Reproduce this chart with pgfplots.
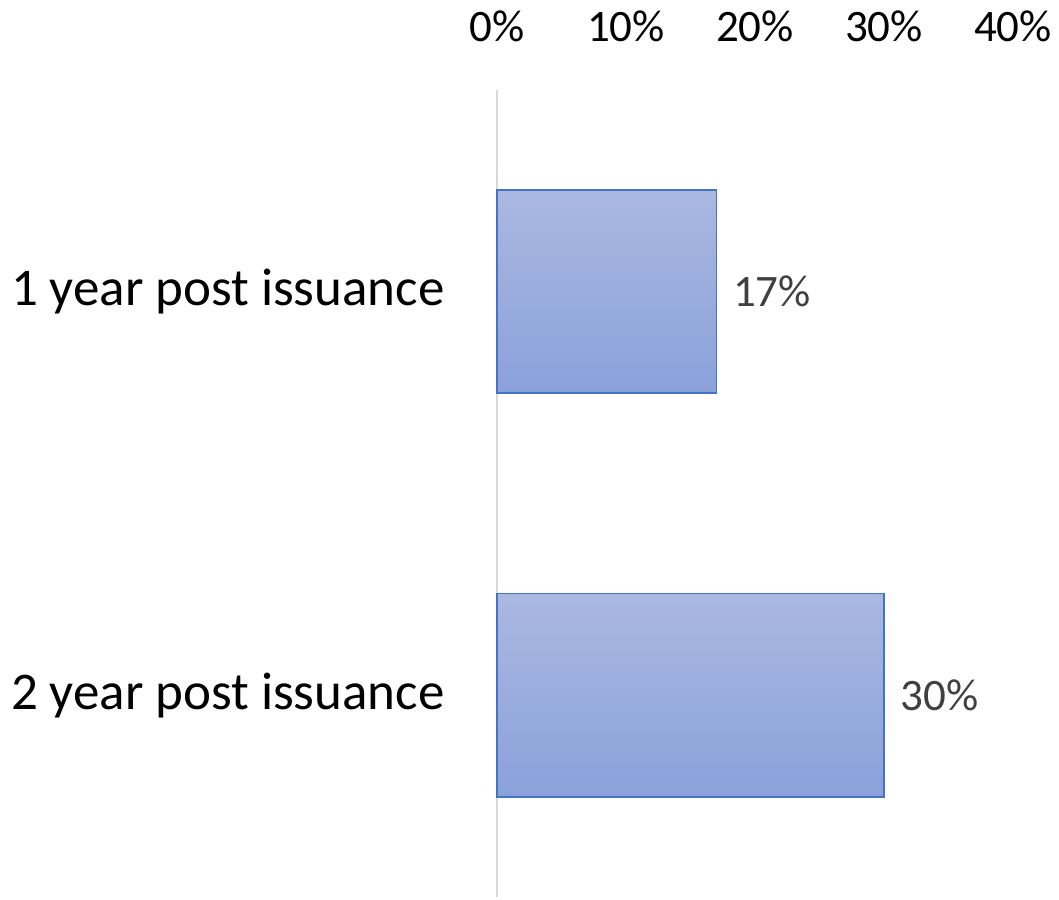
\documentclass[border=0pt]{standalone}
\usepackage{pgfplots}
\pgfplotsset{compat=1.18}
\usepackage{fontspec}
\setmainfont{Carlito}
\definecolor{barTop}{HTML}{AAB8E1}
\definecolor{barBot}{HTML}{8AA1DA}
\definecolor{barEdge}{HTML}{4472C4}
\definecolor{axisGray}{HTML}{D9D9D9}
\definecolor{labelGray}{HTML}{404040}
\tikzset{gradbar/.style={top color=barTop, bottom color=barBot, draw=barEdge, line width=0.75pt}}
\begin{document}
\begin{tikzpicture}[x=1pt,y=1pt]
% fixed page: 1 px of the reference = 0.5pt
\path[use as bounding box] (-248.5,-1) rectangle (281,448.5);
\begin{axis}[
    at={(0,0)}, anchor=south west,
    scale only axis, width=258pt, height=403.5pt,
    xbar, bar width=101.5pt, bar shift=0pt,
    xmin=0, xmax=40, ymin=-0.5, ymax=1.5,
    xtick={0,10,20,30,40},
    xticklabel={\pgfmathprintnumber{\tick}\%},
    xticklabel pos=upper,
    ytick={0,1},
    yticklabels={2 year post issuance, 1 year post issuance},
    axis x line*=top, axis y line*=left,
    x axis line style={draw=none},
    y axis line style={draw=axisGray, line width=0.75pt, -},
    major tick length=0pt, tick style={draw=none},
    /pgf/number format/assume math mode=true,
    xticklabel style={font=\fontsize{22.5}{27}\selectfont, inner sep=0pt, anchor=base, yshift=24pt},
    yticklabel style={font=\fontsize{26.5}{32}\selectfont, inner sep=0pt, anchor=east, xshift=-26pt},
    nodes near coords={\pgfmathprintnumber{\pgfplotspointmeta}\%},
    nodes near coords style={font=\fontsize{22.5}{27}\selectfont, text=labelGray, anchor=west, inner sep=0pt, xshift=8pt},
    clip=false,
    ]
% one plot per bar so each bar gets its own gradient
\addplot[gradbar] coordinates {(17,1)};
\addplot[gradbar] coordinates {(30,0)};
\end{axis}
\end{tikzpicture}
\end{document}
